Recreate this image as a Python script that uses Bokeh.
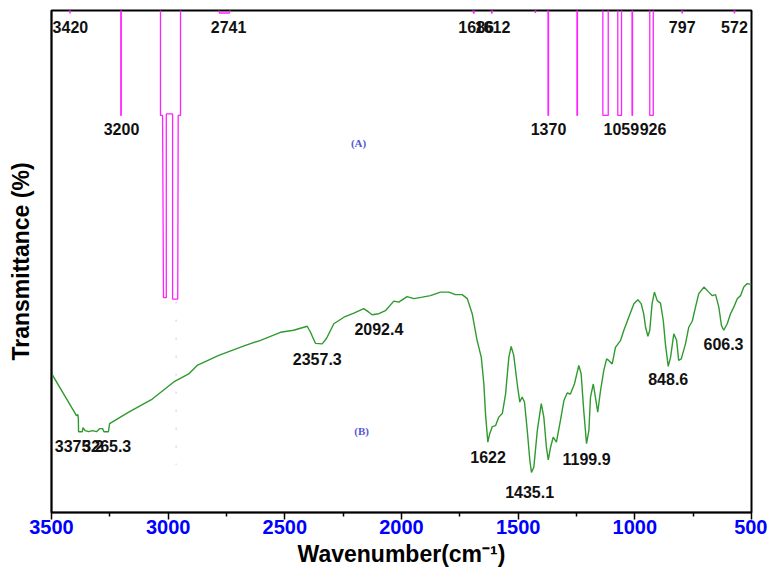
from bokeh.plotting import figure
from bokeh.models import Range1d, FixedTicker, ColumnDataSource
from bokeh.core.properties import value
from bokeh.embed import file_html
from bokeh.resources import INLINE

# ---- Spectrum (A): reference stick-like spectrum (wavenumber, transmittance)
a_wn = [3500, 3425, 3421, 3417, 3203, 3203, 3201, 3201,
        3033, 3033, 3024, 3020, 3008, 3008, 2981, 2981, 2959, 2957, 2947, 2947,
        2785, 2780, 2738, 2733, 1700, 1690, 1685, 1618, 1613, 1608,
        1430, 1426, 1422, 1372, 1372, 1370, 1370, 1248, 1248, 1246, 1246,
        1137, 1137, 1114, 1114, 1073, 1073, 1057, 1057, 1012, 1012, 1010, 1010,
        936, 936, 921, 921, 801, 797, 793, 577, 573, 569, 500]
a_t = [100.6, 100.6, 99.4, 100.6, 100.6, 79.1, 79.1, 100.6,
       100.6, 79.1, 79.1, 42.8, 42.8, 79.4, 79.4, 42.5, 42.5, 79.1, 79.1, 100.6,
       100.6, 99.5, 99.5, 100.6, 100.6, 99.4, 100.6, 100.6, 99.4, 100.6,
       100.6, 99.5, 100.6, 100.6, 79.1, 79.1, 100.6, 100.6, 79.1, 79.1, 100.6,
       100.6, 79.1, 79.1, 100.6, 100.6, 79.1, 79.1, 100.6, 100.6, 79.1, 79.1, 100.6,
       100.6, 79.1, 79.1, 100.6, 100.6, 99.4, 100.6, 100.6, 99.4, 100.6, 100.6]
a_faint_wn = [2966, 2966]
a_faint_t = [42.0, 9.5]

a_lab_text = ["3420", "3200", "2741", "1686", "1612", "1370", "1059", "926", "797", "572"]
a_lab_wn = [3419, 3200, 2741, 1680, 1610, 1370, 1058, 922, 797, 573]
a_lab_t = [96.8, 76.3, 96.8, 96.8, 96.8, 76.3, 76.3, 76.3, 96.8, 96.8]

# ---- Spectrum (B): measured sample
b_wn = [3500, 3393, 3387, 3385, 3384, 3368, 3365, 3356, 3341, 3324, 3307, 3294, 3281, 3275,
        3256, 3251, 3169, 3068, 2976, 2912, 2876, 2783, 2669, 2604, 2519, 2462, 2404, 2390,
        2369, 2340, 2321, 2290, 2247, 2204, 2162, 2140, 2126, 2097, 2069, 2033, 2012, 1976,
        1947, 1911, 1876, 1833, 1797, 1769, 1740, 1718, 1697, 1676, 1658, 1647, 1640, 1630,
        1622, 1611, 1597, 1583, 1568, 1554, 1540, 1530, 1519, 1504, 1493, 1483, 1473, 1461,
        1450, 1443, 1433, 1418, 1401, 1390, 1379, 1371, 1361, 1350, 1336, 1319, 1304, 1290,
        1276, 1259, 1240, 1230, 1219, 1207, 1197, 1190, 1178, 1169, 1159, 1147, 1133, 1121,
        1112, 1097, 1083, 1061, 1047, 1026, 1004, 987, 973, 962, 954, 944, 936, 926, 916,
        904, 890, 878, 869, 857, 847, 833, 821, 812, 801, 783, 769, 754, 740, 726, 704, 683,
        668, 654, 640, 629, 619, 604, 590, 576, 561, 547, 533, 518, 500]
b_t = [27.7, 19.3, 19.5, 18.7, 16.1, 16.1, 16.9, 16.3, 16.1, 16.3, 16.1, 16.7, 16.7, 16.1,
       16.1, 17.7, 20.0, 22.6, 26.0, 27.6, 29.3, 31.3, 33.3, 34.3, 35.9, 36.3, 37.1, 35.9,
       33.7, 33.6, 34.7, 37.6, 38.9, 39.7, 40.6, 39.9, 39.4, 39.6, 40.2, 42.1, 41.9, 43.0,
       42.6, 42.9, 43.2, 43.9, 43.9, 43.4, 43.4, 42.6, 39.6, 34.3, 30.9, 25.6, 19.7, 14.0,
       15.7, 17.1, 17.3, 19.0, 19.7, 23.6, 30.9, 33.1, 31.3, 25.6, 22.0, 23.0, 22.0, 16.3,
       10.4, 8.0, 9.0, 16.3, 21.7, 19.0, 13.0, 10.5, 13.0, 15.0, 14.0, 18.3, 22.3, 23.8,
       23.6, 25.6, 29.3, 27.6, 20.3, 13.7, 16.3, 23.0, 25.6, 23.0, 20.0, 24.3, 28.3, 30.6,
       30.3, 29.6, 32.9, 34.3, 36.3, 38.9, 41.6, 42.4, 41.6, 39.6, 36.9, 35.1, 36.3, 41.6, 43.9,
       42.2, 41.7, 38.2, 33.6, 29.1, 30.9, 35.6, 34.3, 30.3, 30.6, 33.6, 36.9, 38.1, 40.9, 43.6,
       44.9, 43.9, 43.2, 43.4, 40.9, 37.3, 36.3, 37.6, 39.6, 40.9, 42.6, 43.2, 44.9, 45.6, 45.4]

b_lab_text = ["3375.2", "3265.3", "2357.3", "2092.4", "1622", "1435.1", "1199.9", "848.6", "606.3"]
b_lab_wn = [3381, 3263, 2361, 2097, 1629, 1451, 1207, 857, 620]
b_lab_t = [13.3, 13.3, 30.5, 36.5, 11.0, 4.0, 10.7, 26.5, 33.6]

panel_text = ["(A)", "(B)"]
panel_wn = [2184, 2171]
panel_t = [73.7, 16.3]

x_major = [3500, 3000, 2500, 2000, 1500, 1000, 500]
x_minor = [3250, 2750, 2250, 1750, 1250, 750]

p = figure(width=767, height=571, output_backend="svg", toolbar_location=None,
           x_range=Range1d(3500, 500), y_range=Range1d(0, 100),
           min_border_left=51, min_border_right=16, min_border_top=10, min_border_bottom=59)
p.xgrid.visible = False
p.ygrid.visible = False
p.outline_line_color = "black"
p.outline_line_width = 2
p.background_fill_color = "white"
p.border_fill_color = "white"

p.line(a_wn, a_t, line_color="#ff22ff", line_width=1.3)
p.line(a_faint_wn, a_faint_t, line_color="#ff00ff", line_width=1, line_alpha=0.35, line_dash="2 16")
p.line(b_wn, b_t, line_color="#2f9a2f", line_width=1.4)

src_a = ColumnDataSource(dict(x=a_lab_wn, y=a_lab_t, t=a_lab_text))
src_b = ColumnDataSource(dict(x=b_lab_wn, y=b_lab_t, t=b_lab_text))
for src in (src_a, src_b):
    p.text(x="x", y="y", text="t", source=src, text_font=value("Liberation Sans"),
           text_font_style="bold", text_font_size="16px", text_color="#111111",
           text_align="center", text_baseline="middle")
src_p = ColumnDataSource(dict(x=panel_wn, y=panel_t, t=panel_text))
p.text(x="x", y="y", text="t", source=src_p, text_font=value("Liberation Serif"),
       text_font_style="bold", text_font_size="11px", text_color="#5555d5",
       text_align="center", text_baseline="middle")

ax = p.xaxis[0]
ax.ticker = FixedTicker(ticks=x_major, minor_ticks=x_minor)
ax.axis_label = "Wavenumber(cm\u207b\u00b9)"
ax.axis_label_text_font = "Liberation Sans"
ax.axis_label_text_font_style = "bold"
ax.axis_label_text_font_size = "23px"
ax.axis_label_text_color = "black"
ax.axis_label_standoff = 4
ax.major_label_text_font = "Liberation Sans"
ax.major_label_text_font_style = "bold"
ax.major_label_text_font_size = "20px"
ax.major_label_text_color = "#0000ff"
ax.major_label_standoff = 0
ax.major_tick_out = 7
ax.major_tick_in = 0
ax.minor_tick_out = 4
ax.minor_tick_in = 0
ax.axis_line_width = 1.5
ax.major_tick_line_width = 1.5
ax.minor_tick_line_width = 1.5
ax.axis_line_color = "black"

ay = p.yaxis[0]
ay.ticker = FixedTicker(ticks=[], minor_ticks=[])
ay.axis_label = "Transmittance (%)"
ay.axis_label_text_font = "Liberation Sans"
ay.axis_label_text_font_style = "bold"
ay.axis_label_text_font_size = "23px"
ay.axis_label_text_color = "black"
ay.axis_label_standoff = 18
ay.major_tick_out = 0
ay.major_tick_in = 0
ay.minor_tick_out = 0
ay.minor_tick_in = 0
ay.major_label_standoff = 0
ay.axis_line_width = 1.5
ay.axis_line_color = "black"

open("out.html", "w").write(file_html(p, INLINE))
